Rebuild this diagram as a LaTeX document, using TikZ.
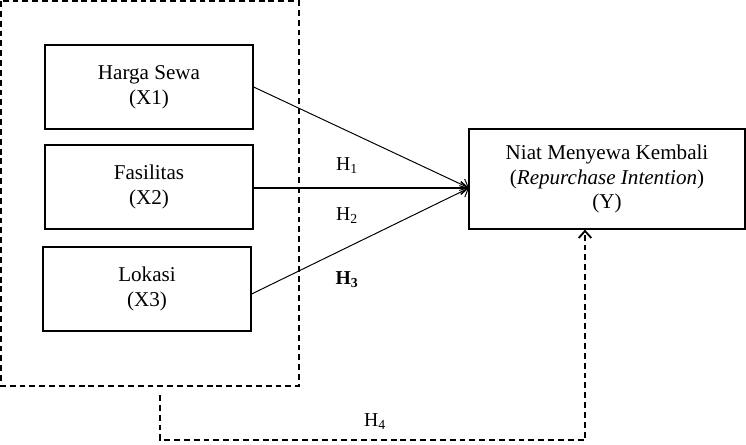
\documentclass[tikz,border=0pt]{standalone}
\usepackage{fontspec}
\setmainfont{Liberation Serif}
\usetikzlibrary{arrows.meta}

\begin{document}
\begin{tikzpicture}[x=0.025cm,y=-0.025cm,
  >={Straight Barb[length=5pt,width=9pt]},
  var/.style={draw,line width=0.9pt,minimum width=208*0.025cm,minimum height=84*0.025cm,
              align=center,font=\fontsize{15}{17.5}\selectfont,inner sep=0pt},
  hyp/.style={font=\fontsize{14}{16}\selectfont},
  dash box/.style={line width=1.3pt,dash pattern=on 4.2pt off 2.8pt}]
\useasboundingbox (0,0) rectangle (746,445);

\draw (149,87)   node (x1) [var] {Harga Sewa\\(X1)};
\draw (149,187)  node (x2) [var] {Fasilitas\\(X2)};
\draw (147,289)  node (x3) [var] {Lokasi\\(X3)};
\draw (607,179)  node (y)  [var,minimum width=276*0.025cm,minimum height=100*0.025cm]
      {Niat Menyewa Kembali\\(\textit{Repurchase Intention})\\(Y)};
\coordinate (yin) at (469,188);

% group of independent variables
\draw[dash box] (1,1) rectangle (299,386);

\draw[->,line width=0.7pt] (x1.east) -- (yin);
\draw[->,line width=1.1pt] (x2.east |- yin) -- (yin);
\draw[->,line width=0.7pt] ([yshift=-5*0.025cm]x3.east) -- (yin);

\draw (347,166) node (h1) [hyp] {H\textsubscript{1}};
\draw (347,216) node (h2) [hyp] {H\textsubscript{2}};
\draw (347,280) node (h3) [hyp] {\textbf{H\textsubscript{3}}};

% simultaneous path
\coordinate (g) at (160,395);
\coordinate (c) at (585,440);
\draw[dash box,->] (g) |- (c) -- (c |- y.south);
\draw (375,422) node (h4) [hyp] {H\textsubscript{4}};
\end{tikzpicture}
\end{document}
